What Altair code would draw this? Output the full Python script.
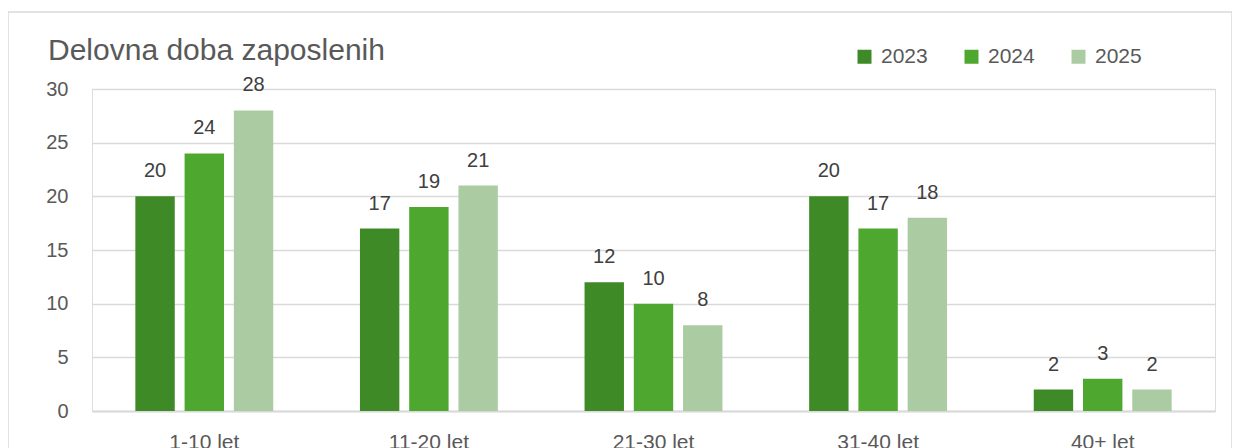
import altair as alt
import pandas as pd

categories = ["1-10 let", "11-20 let", "21-30 let", "31-40 let", "40+ let"]
years = ["2023", "2024", "2025"]
v2023 = [20, 17, 12, 20, 2]
v2024 = [24, 19, 10, 17, 3]
v2025 = [28, 21, 8, 18, 2]
colors = ["#3d8a27", "#4ea72e", "#abcca3"]
title_text = "Delovna doba zaposlenih"

rows = []
for i, c in enumerate(categories):
    for y, vals in zip(years, [v2023, v2024, v2025]):
        rows.append({"cat": c, "year": y, "value": vals[i]})
df = pd.DataFrame(rows)

FONT = "Liberation Sans"

base = alt.Chart(df).encode(
    x=alt.X("cat:N", sort=categories, title=None,
            scale=alt.Scale(paddingInner=0.386, paddingOuter=0.193),
            axis=alt.Axis(labelAngle=0, labelFontSize=21, labelColor="#595959",
                          labelFont=FONT, ticks=False, domain=True,
                          domainColor="#d9d9d9", domainWidth=2, labelPadding=20)),
    xOffset=alt.XOffset("year:N", sort=years,
                        scale=alt.Scale(paddingInner=0.2, paddingOuter=0)),
)

bars = base.mark_bar().encode(
    y=alt.Y("value:Q", title=None,
            scale=alt.Scale(domain=[0, 30], nice=False),
            axis=alt.Axis(values=[0, 5, 10, 15, 20, 25, 30], labelFontSize=20,
                          labelColor="#595959", labelFont=FONT, ticks=False,
                          domain=False, gridColor="#d9d9d9", gridWidth=1.5,
                          labelPadding=24)),
    color=alt.Color("year:N", sort=years, title=None,
                    scale=alt.Scale(domain=years, range=colors),
                    legend=alt.Legend(orient="none", legendX=762, legendY=-43,
                                      direction="horizontal", symbolType="square",
                                      symbolSize=196, symbolStrokeWidth=0,
                                      labelFontSize=21, labelFont=FONT,
                                      labelColor="#595959", columnPadding=33,
                                      labelOffset=6)),
)

labels = base.mark_text(dy=-19, baseline="alphabetic", fontSize=20, font=FONT,
                        color="#404040").encode(
    y=alt.Y("value:Q"),
    text=alt.Text("value:Q"),
)

title = alt.Chart(pd.DataFrame({"t": [title_text]})).mark_text(
    align="left", baseline="alphabetic", fontSize=30, font=FONT,
    color="#595959", clip=False
).encode(x=alt.value(-44), y=alt.value(-29), text="t:N")

border = alt.Chart(pd.DataFrame({"a": [0]})).mark_rect(
    fill=None, stroke="#d9d9d9", strokeWidth=1.5, clip=False
).encode(
    x=alt.value(-84), x2=alt.value(1140), y=alt.value(-77), y2=alt.value(400)
)

chart = alt.layer(border, bars, labels, title).properties(
    width=1123, height=322,
    autosize=alt.AutoSizeParams(type="none"),
    padding={"left": 84, "top": 81, "right": 17, "bottom": 40},
).configure_view(strokeWidth=0).configure(background="white")

chart.save("out.html", embed_options={"renderer": "svg", "actions": False})
